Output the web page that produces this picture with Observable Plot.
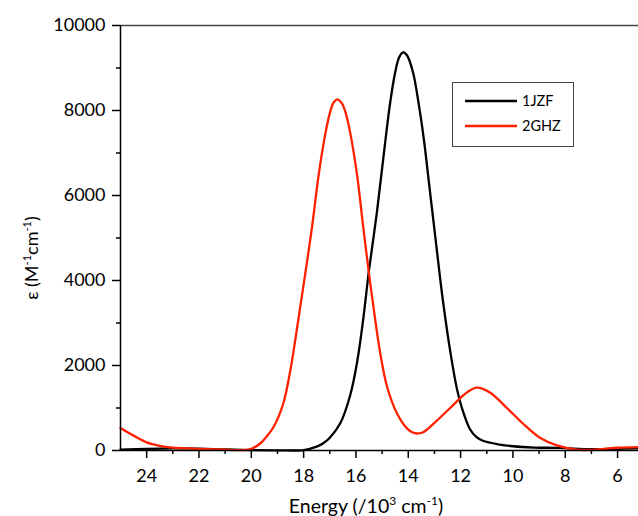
<!DOCTYPE html>
<html><head><meta charset="utf-8">
<script src="https://cdn.jsdelivr.net/npm/d3@7"></script>
<script src="https://cdn.jsdelivr.net/npm/@observablehq/plot@0.6"></script>
<style>
body{margin:0;background:#fff;}
#chart svg{font-family:Lato, "Open Sans", sans-serif;}
</style>
</head><body><div id="chart"></div>
<script>
const seriesNames = ["1JZF", "2GHZ"];
const seriesColors = ["#000000", "#ff2000"];

const jzfEnergy = [25, 24, 23, 22, 21, 20, 19, 18, 17.5, 17.25, 17, 16.6, 16.22, 15.95, 15.73, 15.5, 15.2, 14.95, 14.7, 14.5, 14.35, 14.2, 14.05, 13.82, 13.6, 13.4, 13.2, 13.0, 12.82, 12.67, 12.4, 12.14, 11.95, 11.64, 11.4, 11.15, 10.5, 10, 9.2, 8.2, 7, 6, 5.2];
const jzfEps    = [20, 40, 50, 45, 25, 10, 5, 10, 90, 170, 300, 640, 1300, 2100, 3050, 4250, 5600, 6900, 8150, 8900, 9250, 9370, 9300, 8900, 8150, 7300, 6250, 5200, 4250, 3500, 2350, 1450, 1000, 500, 320, 230, 140, 100, 70, 60, 30, 40, 50];

const ghzEnergy = [25, 24.5, 24, 23.5, 23, 22, 21, 20.5, 20.2, 20, 19.66, 19.4, 19.16, 18.78, 18.51, 18.32, 18.13, 17.94, 17.67, 17.44, 17.18, 16.98, 16.85, 16.72, 16.55, 16.41, 16.22, 15.95, 15.73, 15.5, 15.34, 15.08, 14.81, 14.43, 14.05, 13.85, 13.66, 13.45, 13.25, 13.05, 12.79, 12.4, 11.76, 11.37, 10.88, 10.23, 9.62, 8.97, 8.32, 7.56, 7.0, 6.5, 6.0, 5.2];
const ghzEps    = [530, 350, 190, 110, 70, 40, 20, 10, 15, 40, 165, 340, 540, 1100, 1880, 2600, 3380, 4150, 5300, 6420, 7420, 7980, 8190, 8260, 8180, 7980, 7480, 6450, 5300, 4150, 3420, 2320, 1500, 870, 520, 430, 400, 425, 510, 620, 770, 1000, 1365, 1480, 1365, 1000, 635, 300, 120, 20, 15, 40, 65, 80];

const xMajorTicks = [24, 22, 20, 18, 16, 14, 12, 10, 8, 6];
const xMinorTicks = [23, 21, 19, 17, 15, 13, 11, 9, 7];
const yMajorTicks = [0, 2000, 4000, 6000, 8000, 10000];
const yMinorTicks = [1000, 3000, 5000, 7000, 9000];

const jzfRows = jzfEnergy.map((e, i) => ({energy: e, eps: jzfEps[i]}));
const ghzRows = ghzEnergy.map((e, i) => ({energy: e, eps: ghzEps[i]}));
const fmt = d => String(d);

const chart = Plot.plot({
  width: 638,
  height: 516,
  marginLeft: 120,
  marginRight: 0,
  marginTop: 25,
  marginBottom: 66,
  style: {fontFamily: "Lato, 'Open Sans', sans-serif", fontSize: "18px", color: "#000", background: "#fff", overflow: "visible"},
  x: {domain: [25, 5.2], label: null},
  y: {domain: [0, 10000], label: null},
  marks: [
    Plot.axisX({ticks: xMajorTicks, tickSize: 8, tickPadding: 11, tickFormat: fmt, fontSize: 18, strokeWidth: 1.5, label: null}),
    Plot.axisX({ticks: xMinorTicks, tickSize: 4, text: null, strokeWidth: 1.5, label: null}),
    Plot.axisY({ticks: yMajorTicks, tickSize: 8, tickPadding: 7, tickFormat: fmt, fontSize: 18, strokeWidth: 1.5, label: null}),
    Plot.axisY({ticks: yMinorTicks, tickSize: 4, text: null, strokeWidth: 1.5, label: null}),
    Plot.ruleY([10000], {stroke: "#444", strokeWidth: 1.5}),
    Plot.line(jzfRows, {x: "energy", y: "eps", stroke: seriesColors[0], strokeWidth: 2.3, curve: "catmull-rom"}),
    Plot.line(ghzRows, {x: "energy", y: "eps", stroke: seriesColors[1], strokeWidth: 2.3, curve: "catmull-rom"}),
    Plot.ruleX([25], {stroke: "#000", strokeWidth: 1.5}),
    Plot.ruleY([0], {stroke: "#000", strokeWidth: 1.5})
  ]
});

document.getElementById("chart").appendChild(chart);
const svg = d3.select(chart);
const FONT = "Lato, 'Open Sans', sans-serif";

// Y axis title
const yl = svg.append("text")
  .attr("transform", "translate(38,258) rotate(-90)")
  .attr("text-anchor", "middle")
  .attr("font-family", FONT).attr("font-size", 18).attr("fill", "#000");
yl.append("tspan").text("ε (M");
yl.append("tspan").attr("dy", -7).attr("font-size", 11).text("-1");
yl.append("tspan").attr("dy", 7).text("cm");
yl.append("tspan").attr("dy", -7).attr("font-size", 11).text("-1");
yl.append("tspan").attr("dy", 7).text(")");

// X axis title
const xl = svg.append("text")
  .attr("x", 366).attr("y", 513)
  .attr("text-anchor", "middle")
  .attr("font-family", FONT).attr("font-size", 19.5).attr("fill", "#000");
xl.append("tspan").text("Energy (/10");
xl.append("tspan").attr("dy", -8).attr("font-size", 12).text("3");
xl.append("tspan").attr("dy", 8).text(" cm");
xl.append("tspan").attr("dy", -8).attr("font-size", 12).text("-1");
xl.append("tspan").attr("dy", 8).text(")");

// Legend
const lg = svg.append("g");
lg.append("rect").attr("x", 452.5).attr("y", 82.5).attr("width", 121).attr("height", 64)
  .attr("fill", "#fff").attr("stroke", "#444").attr("stroke-width", 1);
seriesNames.forEach((name, i) => {
  const y = 101 + i * 25;
  lg.append("line").attr("x1", 465).attr("x2", 517).attr("y1", y).attr("y2", y)
    .attr("stroke", seriesColors[i]).attr("stroke-width", 2.5);
  lg.append("text").attr("x", 522).attr("y", y).attr("dy", "0.35em")
    .attr("text-anchor", "start")
    .attr("font-family", FONT).attr("font-size", 14.5).attr("fill", "#000").text(name);
});
</script>
</body></html>
